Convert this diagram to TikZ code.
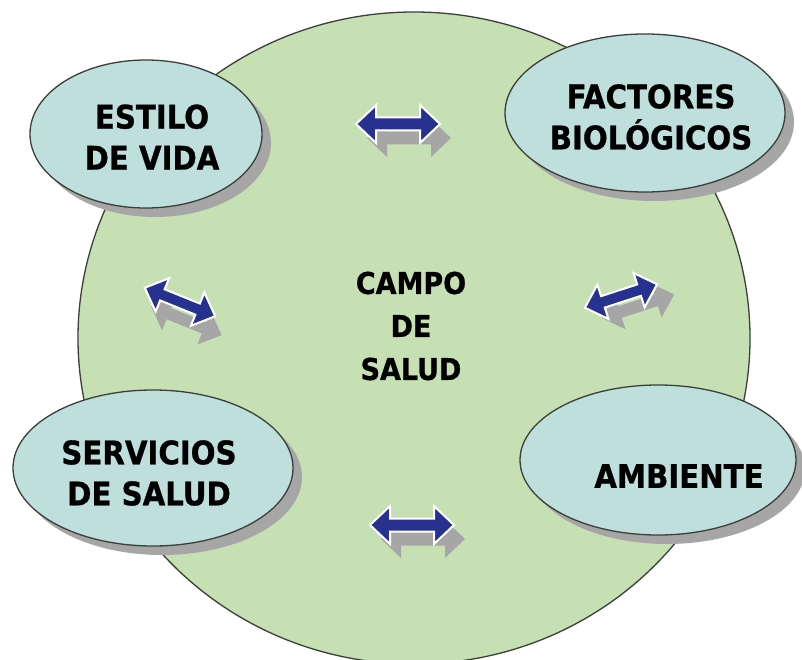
\documentclass[tikz,border=0pt]{standalone}
\usepackage{fontspec}
\setmainfont{DejaVu Sans Condensed}[BoldFeatures={FakeBold=0.8}]
\usetikzlibrary{shapes.geometric,shadows}
\definecolor{campo}{HTML}{C6E0B4}
\definecolor{elfill}{HTML}{BFDFDD}
\definecolor{edge}{HTML}{3A3F3A}
\definecolor{arrblue}{HTML}{27318F}
\definecolor{shadowgrey}{HTML}{A6A6A6}
\tikzset{
  factor/.style={ellipse, draw=edge, line width=1.3pt, fill=elfill, inner sep=0pt,
    drop shadow={shadow xshift=9pt, shadow yshift=-9pt, fill=shadowgrey, opacity=1}},
  lbl/.style={align=center, font=\bfseries\fontsize{32.5}{41}\selectfont, text=black},
  dblarr/.pic={
    \fill[shadowgrey, shift={(11,14)}] (-42,0) -- (-22,-19) -- (-22,-6.5) -- (22,-6.5) -- (22,-19) -- (42,0)
      -- (22,19) -- (22,6.5) -- (-22,6.5) -- (-22,19) -- cycle;
    \path[fill=arrblue, draw=white, line width=2pt, line join=miter] (-42,0) -- (-22,-19) -- (-22,-6.5) -- (22,-6.5) -- (22,-19) -- (42,0)
      -- (22,19) -- (22,6.5) -- (-22,6.5) -- (-22,19) -- cycle;
  },
  dblarrs/.pic={
    \fill[shadowgrey, shift={(13,15)}] (-38,0) -- (-19,-18) -- (-19,-6) -- (19,-6) -- (19,-18) -- (38,0)
      -- (19,18) -- (19,6) -- (-19,6) -- (-19,18) -- cycle;
    \path[fill=arrblue, draw=white, line width=2pt, line join=miter] (-38,0) -- (-19,-18) -- (-19,-6) -- (19,-6) -- (19,-18) -- (38,0)
      -- (19,18) -- (19,6) -- (-19,6) -- (-19,18) -- cycle;
  }
}
\begin{document}
\begin{tikzpicture}[x=1pt,y=-1pt]
\useasboundingbox (0,0) rectangle (802,660);
\fill[white] (0,0) rectangle (802,660);
% campo de salud
\node[ellipse, draw=edge, line width=1.3pt, fill=campo, minimum width=672pt, minimum height=652pt, inner sep=0pt] (campo) at (414,338) {};
\node[lbl, font=\bfseries\fontsize{30}{43}\selectfont] (tc) at (411,326) {CAMPO\\DE\\SALUD};
% factors
\node[factor, minimum width=232pt, minimum height=148pt] (e1) at (146,134) {};
\node[lbl] (t1) at (152,137) {ESTILO\\DE VIDA};
\node[factor, minimum width=280pt, minimum height=158pt] (e2) at (645,113) {};
\node[lbl] (t2) at (651,117) {FACTORES\\BIOLÓGICOS};
\node[factor, minimum width=280pt, minimum height=156pt] (e3) at (153,468) {};
\node[lbl] (t3) at (149,473) {SERVICIOS\\DE SALUD};
\node[factor, minimum width=276pt, minimum height=150pt] (e4) at (658,460) {};
\node[lbl] (t4) at (679,476) {AMBIENTE};
% arrows
\pic (a1) at (398,124) {dblarr};
\pic (a2) at (412,525) {dblarr};
\pic[rotate=-22] (a3) at (180,302) {dblarrs};
\pic[rotate=18] (a4) at (621,296) {dblarrs};
\end{tikzpicture}
\end{document}
